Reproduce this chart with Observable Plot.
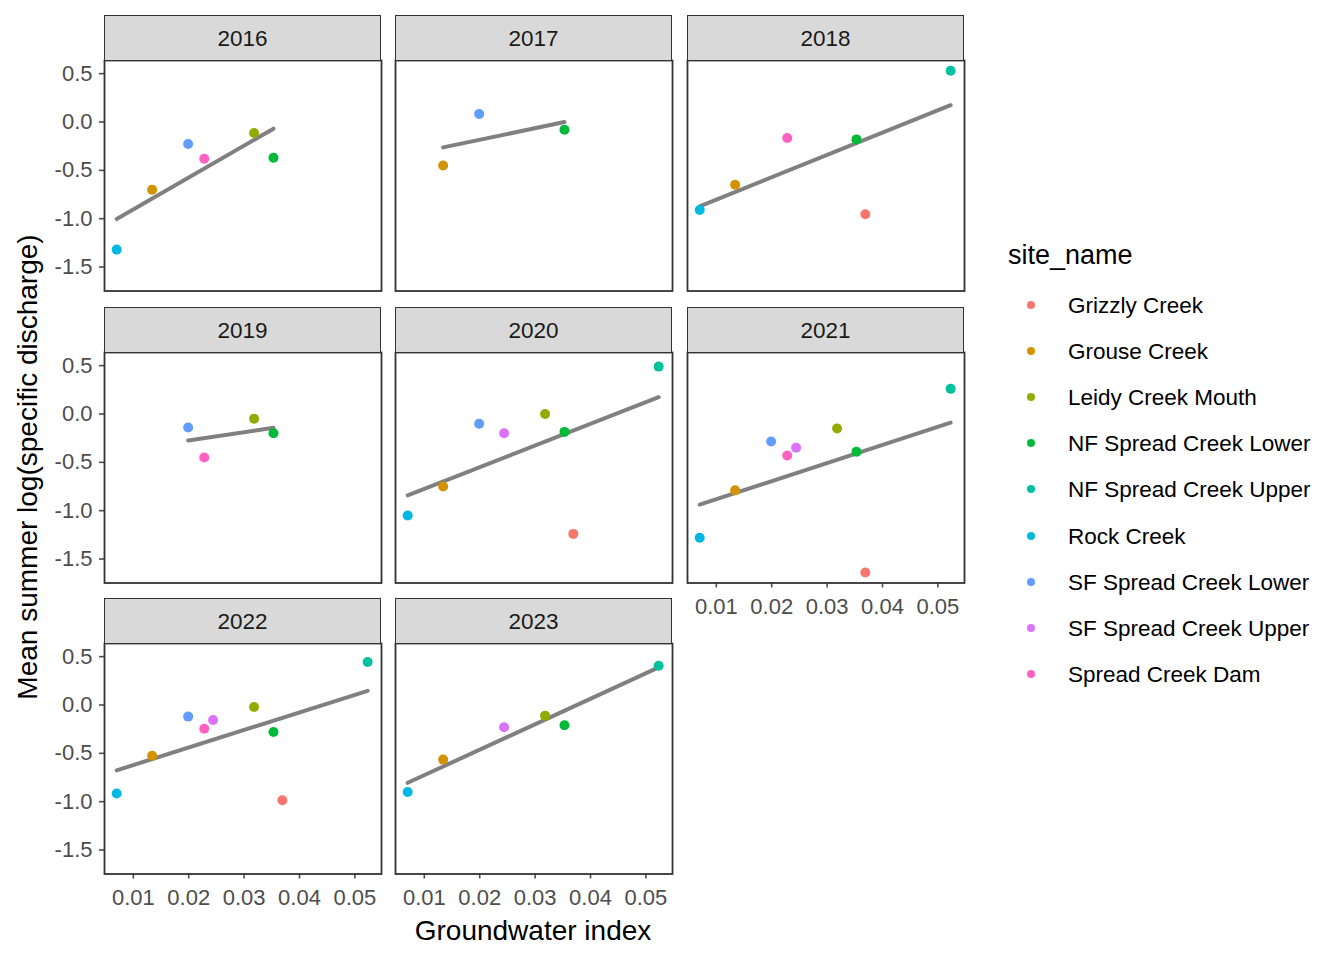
<!DOCTYPE html>
<html>
<head>
<meta charset="utf-8">
<script src="https://cdn.jsdelivr.net/npm/d3@7"></script>
<script src="https://cdn.jsdelivr.net/npm/@observablehq/plot@0.6"></script>
<style>
  html, body { margin: 0; padding: 0; background: #fff; }
  body { font-family: "Liberation Sans", Arial, sans-serif; }
  #root { position: relative; width: 1344px; height: 960px; overflow: hidden; background: #fff; }
  .panel { position: absolute; }
  .strip { position: absolute; background: #d9d9d9; border: 1.2px solid #333; box-sizing: border-box;
           display: flex; align-items: center; justify-content: center; font-size: 22.5px; color: #1a1a1a;
           padding-top: 3px; }
  .title { position: absolute; font-size: 28px; color: #000; white-space: nowrap; }
  .legend-title { position: absolute; font-size: 27px; color: #000; }
  .legend-item { position: absolute; font-size: 22.5px; color: #000; white-space: nowrap; }
  .legend-dot { position: absolute; width: 8px; height: 8px; border-radius: 50%; }
</style>
</head>
<body>
<div id="root"></div>
<script>
// ---- data ----
const sites = ["Grizzly Creek", "Grouse Creek", "Leidy Creek Mouth", "NF Spread Creek Lower",
  "NF Spread Creek Upper", "Rock Creek", "SF Spread Creek Lower", "SF Spread Creek Upper", "Spread Creek Dam"];
const siteColors = ["#F8766D", "#D39200", "#93AA00", "#00BA38", "#00C19F", "#00B9E3", "#619CFF", "#DB72FB", "#FF61C3"];
// groundwater index per site (same order as sites)
const gwIndex = [0.0369, 0.0134, 0.0318, 0.0353, 0.0523, 0.0070, 0.0199, 0.0244, 0.0228];
const years = [2016, 2017, 2018, 2019, 2020, 2021, 2022, 2023];
// mean summer log(specific discharge), per year, same site order (null = no data)
const q2016 = [null, -0.70, -0.113, -0.37, null, -1.32, -0.227, null, -0.38];
const q2017 = [null, -0.45, null, -0.08, null, null, 0.082, null, null];
const q2018 = [-0.955, -0.65, null, -0.18, 0.53, -0.91, null, null, -0.165];
const q2019 = [null, null, -0.05, -0.20, null, null, -0.14, null, -0.45];
const q2020 = [-1.24, -0.75, 0.0, -0.185, 0.49, -1.05, -0.10, -0.20, null];
const q2021 = [-1.64, -0.79, -0.15, -0.39, 0.26, -1.28, -0.285, -0.35, -0.43];
const q2022 = [-0.985, -0.525, -0.02, -0.28, 0.445, -0.915, -0.12, -0.155, -0.245];
const q2023 = [null, -0.565, -0.11, -0.21, 0.405, -0.90, null, -0.23, null];
const xTicks = [0.01, 0.02, 0.03, 0.04, 0.05];
const yTicks = [0.5, 0.0, -0.5, -1.0, -1.5];

const qByYear = [q2016, q2017, q2018, q2019, q2020, q2021, q2022, q2023];

// ---- layout ----
const colLeft = [104, 395, 687];
const rowTop = [60, 352, 643];
const PW = 277, PH = 230.5, STRIP = 45.5;
const ML = 80, MR = 10, MT = 10, MB = 50;
const xDomain = [0.0048, 0.0548];
const yDomain = [-1.748, 0.636];
const FONT = "'Liberation Sans', Arial, sans-serif";

const root = document.getElementById("root");

years.forEach((yr, i) => {
  const col = i % 3, row = Math.floor(i / 3);
  const data = sites.map((s, k) => ({site: s, gw: gwIndex[k], q: qByYear[i][k]})).filter(d => d.q !== null);
  const showY = col === 0;
  const showX = row === 2 || (row === 1 && col === 2);
  const chart = Plot.plot({
    width: PW + ML + MR,
    height: PH + MT + MB,
    marginLeft: ML, marginRight: MR, marginTop: MT, marginBottom: MB,
    x: {domain: xDomain, axis: null},
    y: {domain: yDomain, axis: null},
    color: {domain: sites, range: siteColors},
    style: {fontFamily: FONT, background: "transparent", overflow: "visible"},
    marks: [
      showY ? Plot.axisY({ticks: yTicks, tickFormat: d => d.toFixed(1), tickSize: 5, tickPadding: 7,
        fontSize: 22, color: "#4d4d4d", strokeWidth: 1.6, label: null}) : null,
      showX ? Plot.axisX({ticks: xTicks, tickFormat: d => d.toFixed(2), tickSize: 5, tickPadding: 10,
        fontSize: 22, color: "#4d4d4d", strokeWidth: 1.6, label: null}) : null,
      Plot.linearRegressionY(data, {x: "gw", y: "q", stroke: "#808080", strokeWidth: 4, ci: 0}),
      Plot.dot(data, {x: "gw", y: "q", fill: "site", r: 5}),
      Plot.frame({stroke: "#333", strokeWidth: 1.8})
    ]
  });
  const wrap = document.createElement("div");
  wrap.className = "panel";
  wrap.style.left = (colLeft[col] - ML) + "px";
  wrap.style.top = (rowTop[row] - MT) + "px";
  wrap.appendChild(chart);
  root.appendChild(wrap);

  const strip = document.createElement("div");
  strip.className = "strip";
  strip.style.left = colLeft[col] + "px";
  strip.style.top = (rowTop[row] - STRIP) + "px";
  strip.style.width = PW + "px";
  strip.style.height = (STRIP + 1) + "px";
  strip.textContent = String(yr);
  root.appendChild(strip);
});

// axis titles
const xt = document.createElement("div");
xt.className = "title";
xt.textContent = "Groundwater index";
xt.style.left = "533px"; xt.style.top = "931px";
xt.style.transform = "translate(-50%, -50%)";
root.appendChild(xt);

const yt = document.createElement("div");
yt.className = "title";
yt.textContent = "Mean summer log(specific discharge)";
yt.style.left = "28px"; yt.style.top = "467px";
yt.style.transform = "translate(-50%, -50%) rotate(-90deg)";
root.appendChild(yt);

// legend
const lt = document.createElement("div");
lt.className = "legend-title";
lt.textContent = "site_name";
lt.style.left = "1008px"; lt.style.top = "240px";
root.appendChild(lt);
sites.forEach((s, k) => {
  const cy = 305 + k * 46.1;
  const dot = document.createElement("div");
  dot.className = "legend-dot";
  dot.style.background = siteColors[k];
  dot.style.left = (1031 - 4) + "px";
  dot.style.top = (cy - 4) + "px";
  root.appendChild(dot);
  const t = document.createElement("div");
  t.className = "legend-item";
  t.textContent = s;
  t.style.left = "1068px";
  t.style.top = (cy - 12) + "px";
  root.appendChild(t);
});
</script>
</body>
</html>
